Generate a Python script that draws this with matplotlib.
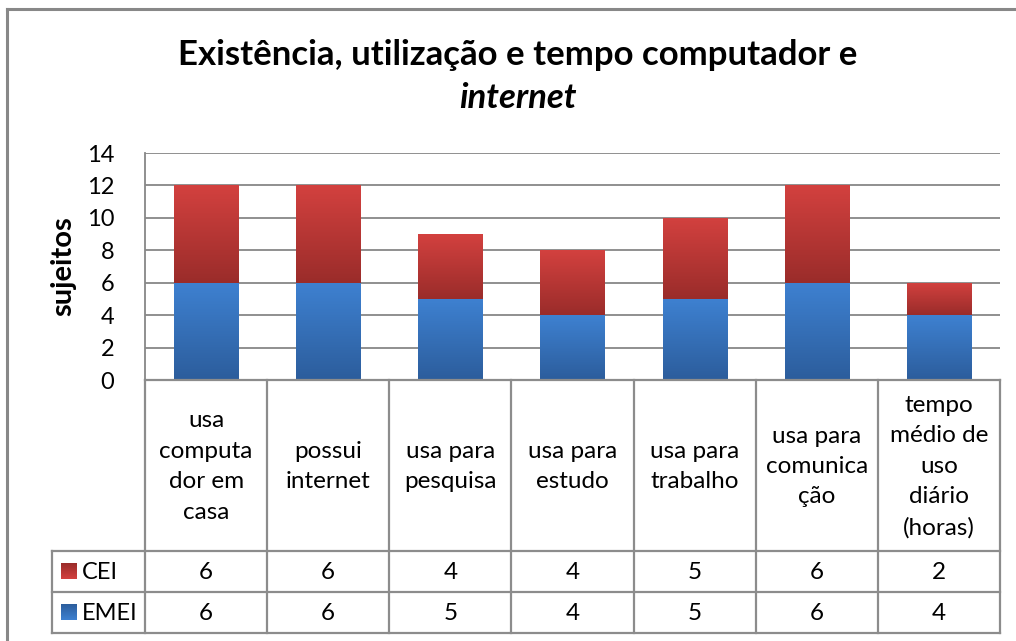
import matplotlib
matplotlib.use("Agg")
import matplotlib.pyplot as plt
import numpy as np
from matplotlib.colors import LinearSegmentedColormap

categories = ["usa\ncomputa\ndor em\ncasa", "possui\ninternet", "usa para\npesquisa",
              "usa para\nestudo", "usa para\ntrabalho", "usa para\ncomunica\nção",
              "tempo\nmédio de\nuso\ndiário\n(horas)"]
emei = [6, 6, 5, 4, 5, 6, 4]
cei = [6, 6, 4, 4, 5, 6, 2]
series_names = ["CEI", "EMEI"]
yticks = [0, 2, 4, 6, 8, 10, 12, 14]

FONT = "Lato"
plt.rcParams['font.family'] = [FONT, 'DejaVu Sans']

W, H = 1016, 641
fig = plt.figure(figsize=(W / 100, H / 100), dpi=100)

def fx(px):
    return px / W

def fy(py):
    return 1 - py / H

L, R, T, B = 145, 1000, 153, 380
ax = fig.add_axes([fx(L), fy(B), fx(R) - fx(L), fy(T) - fy(B)])
n = len(categories)
x = np.arange(n)
ax.set_xlim(-0.5, n - 0.5)
ax.set_ylim(0, 14)

grid_c = "#878787"
for t in yticks:
    ax.axhline(t, color=grid_c, lw=1.3, zorder=1)

red_cmap = LinearSegmentedColormap.from_list("r", ["#9a2c2a", "#d3413f"])
blue_cmap = LinearSegmentedColormap.from_list("b", ["#2c5d9c", "#3e81d1"])
grad = np.linspace(0, 1, 256).reshape(-1, 1)

bw = 0.525
b1 = ax.bar(x, emei, width=bw, color="#3670b8", zorder=2)
b2 = ax.bar(x, cei, width=bw, bottom=emei, color="#b83836", zorder=2)
for bars, cmap in ((b1, blue_cmap), (b2, red_cmap)):
    for p in bars:
        x0, y0 = p.get_x(), p.get_y()
        w, h = p.get_width(), p.get_height()
        im = ax.imshow(grad, extent=[x0, x0 + w, y0, y0 + h], origin="lower",
                       aspect="auto", cmap=cmap, zorder=3)
        im.set_clip_path(p)
ax.set_xlim(-0.5, n - 0.5)
ax.set_ylim(0, 14)

ax.set_yticks(yticks)
ax.set_yticklabels([str(t) for t in yticks], fontsize=17)
ax.tick_params(axis="y", length=0, pad=22)
ax.set_xticks([])
for s in ("right", "top", "bottom"):
    ax.spines[s].set_visible(False)
ax.spines["left"].set_color(grid_c)
ax.spines["left"].set_linewidth(1.3)

# overlay axes in pixel coordinates for the data table
ov = fig.add_axes([0, 0, 1, 1], facecolor="none")
ov.set_xlim(0, W)
ov.set_ylim(H, 0)
ov.axis("off")

ov.text(63, (T + B) / 2, "sujeitos", rotation=90, ha="center", va="center",
        fontsize=21, fontweight="bold")

fig.canvas.draw()
def data_to_px(xd):
    disp = ax.transData.transform((xd, 0))
    return disp[0] * W / fig.bbox.width

bounds = [data_to_px(i - 0.5) for i in range(n + 1)]
centers = [data_to_px(i) for i in range(n)]

hdr_bot, r1_bot, r2_bot = 551, 592, 633
leg_left = 52
lc = "#8c8c8c"
lw = 1.6
for bx in bounds:
    ov.plot([bx, bx], [B, r2_bot], color=lc, lw=lw)
ov.plot([leg_left, leg_left], [hdr_bot, r2_bot], color=lc, lw=lw)
ov.plot([bounds[0], bounds[-1]], [B, B], color=lc, lw=lw)
for yy in (hdr_bot, r1_bot, r2_bot):
    ov.plot([leg_left, bounds[-1]], [yy, yy], color=lc, lw=lw)

for c, lab in zip(centers, categories):
    ov.text(c, (B + hdr_bot) / 2 + 1, lab, ha="center", va="center", fontsize=17.5,
            linespacing=1.55)

rows = [(cei, red_cmap, (hdr_bot + r1_bot) / 2), (emei, blue_cmap, (r1_bot + r2_bot) / 2)]
for name, (vals, cmap, yc) in zip(series_names, rows):
    for c, v in zip(centers, vals):
        ov.text(c, yc + 1, str(v), ha="center", va="center", fontsize=17.5)
    ov.imshow(grad, extent=[61, 77, yc + 8, yc - 8], origin="upper",
              aspect="auto", cmap=cmap, zorder=3)
    ov.text(82, yc + 1, name, ha="left", va="center", fontsize=17)
ov.set_xlim(0, W)
ov.set_ylim(H, 0)

ov.text(518, 55, "Existência, utilização e tempo computador e", ha="center", va="center",
        fontsize=25, fontweight="bold")
ov.text(518, 98, "internet", ha="center", va="center", fontsize=25,
        fontweight="bold", fontstyle="italic")

ov.plot([7, 7], [9, H + 5], color="#888888", lw=2.2)
ov.plot([7, W + 5], [9, 9], color="#888888", lw=2.2)

fig.savefig("out.png", dpi=100)
